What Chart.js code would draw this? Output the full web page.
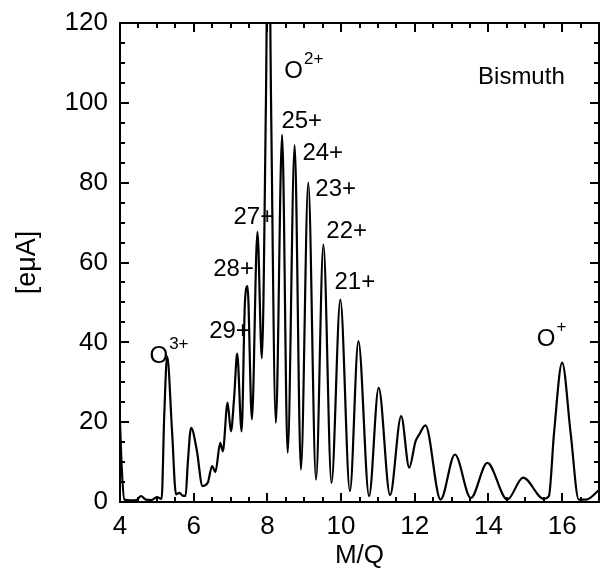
<!DOCTYPE html>
<html>
<head>
<meta charset="utf-8">
<script src="https://cdn.jsdelivr.net/npm/chart.js@4"></script>
<style>
  html, body { margin: 0; padding: 0; background: #fff; }
  #wrap { width: 600px; height: 588px; }
</style>
</head>
<body>
<div id="wrap"><canvas id="spectrum"></canvas></div>
<script>
// --- DATA ---

// M/Q positions of the trace
const massToCharge = [
  4.00, 4.05, 4.12, 4.30, 4.45, 4.57, 4.70, 4.85, 5.00, 5.13,
  5.20, 5.28, 5.41, 5.52, 5.61, 5.70, 5.78, 5.84, 5.93, 6.08,
  6.24, 6.38, 6.50, 6.59, 6.72, 6.79, 6.92, 7.01, 7.10, 7.18,
  7.30, 7.39, 7.46, 7.58, 7.73, 7.85, 7.96, 8.03, 8.10, 8.23,
  8.40, 8.55, 8.74, 8.91, 9.11, 9.32, 9.52, 9.74, 9.98, 10.24,
  10.47, 10.76, 11.02, 11.33, 11.63, 11.85, 12.02, 12.12, 12.29, 12.70,
  13.09, 13.52, 13.97, 14.51, 14.94, 15.50, 15.64, 15.78, 16.00, 16.23,
  16.45, 16.65, 17.00
];
// beam current [eμA]
const beamCurrent = [
  20.0, 8.0, 0.6, 0.4, 0.5, 1.5, 0.6, 0.5, 1.2, 0.8,
  21.5, 36.5, 18.2, 1.9, 2.3, 1.6, 1.5, 9.8, 18.6, 13.2,
  4.0, 4.8, 9.0, 7.5, 14.8, 12.7, 24.9, 17.7, 26.5, 37.2,
  17.7, 49.9, 54.1, 20.7, 67.7, 36.0, 100, 160, 100, 19.8,
  92.0, 12.3, 89.4, 8.1, 80.0, 5.6, 64.5, 4.8, 50.7, 2.7,
  40.3, 1.5, 28.6, 1.7, 21.5, 8.6, 15.2, 16.9, 19.2, 0.6,
  11.9, 1.0, 9.8, 0.6, 6.1, 0.8, 1.5, 17.3, 34.9, 17.3,
  0.6, 0.6, 3.0
];

const xTicks = [4, 6, 8, 10, 12, 14, 16];
const yTicks = [0, 20, 40, 60, 80, 100, 120];

// peak labels: text, superscript, anchor in data units (M/Q, eμA)
const peakText = ["O", "25+", "24+", "23+", "22+", "21+", "27+", "28+", "29+", "O", "O"];
const peakSup = ["2+", "", "", "", "", "", "", "", "", "3+", "+"];
const peakX = [8.46, 8.38, 8.95, 9.30, 9.60, 9.82, 7.08, 6.53, 6.42, 4.80, 15.31];
const peakY = [107.9, 95.4, 87.3, 78.3, 67.8, 55.0, 71.3, 58.3, 42.7, 36.5, 40.7];

const FONT = "Arial, 'Liberation Sans', sans-serif";

// draws the frame, the inward ticks on all four sides and the peak labels
const framePlugin = {
  id: "frame",
  afterDraw(chart) {
    const { ctx, chartArea: a, scales } = chart;
    const xs = scales.x, ys = scales.y;
    ctx.save();
    ctx.strokeStyle = "#000";
    ctx.lineWidth = 2;
    ctx.strokeRect(a.left, a.top, a.right - a.left, a.bottom - a.top);

    ctx.beginPath();
    for (let v = 4; v <= 17.001; v += 0.5) {
      const px = Math.round(xs.getPixelForValue(v));
      const len = v % 2 === 0 ? 9 : 5;
      ctx.moveTo(px, a.bottom); ctx.lineTo(px, a.bottom - len);
      ctx.moveTo(px, a.top); ctx.lineTo(px, a.top + len);
    }
    for (let v = 0; v <= 120; v += 5) {
      const py = Math.round(ys.getPixelForValue(v));
      const len = v % 20 === 0 ? 9 : 5;
      ctx.moveTo(a.left, py); ctx.lineTo(a.left + len, py);
      ctx.moveTo(a.right, py); ctx.lineTo(a.right - len, py);
    }
    ctx.stroke();

    ctx.fillStyle = "#000";
    ctx.textBaseline = "middle";
    peakText.forEach((t, i) => {
      const px = xs.getPixelForValue(peakX[i]);
      const py = ys.getPixelForValue(peakY[i]);
      ctx.font = `24px ${FONT}`;
      ctx.textAlign = "left";
      ctx.fillText(t, px, py);
      if (peakSup[i]) {
        const w = ctx.measureText(t).width;
        ctx.font = `17px ${FONT}`;
        ctx.fillText(peakSup[i], px + w + 1, py - 12);
      }
    });

    ctx.font = `24px ${FONT}`;
    ctx.textAlign = "right";
    ctx.fillText("Bismuth", xs.getPixelForValue(16.07), ys.getPixelForValue(106.4));
    ctx.restore();
  },
};

new Chart(document.getElementById("spectrum"), {
  type: "line",
  data: {
    datasets: [{
      data: massToCharge.map((m, i) => ({ x: m, y: beamCurrent[i] })),
      borderColor: "#000",
      borderWidth: 2.2,
      pointRadius: 0,
      cubicInterpolationMode: "monotone",
      fill: false,
    }],
  },
  options: {
    responsive: true,
    maintainAspectRatio: false,
    animation: false,
    events: [],
    layout: { padding: { top: 23, right: 1, left: 0, bottom: 0 } },
    plugins: { legend: { display: false }, tooltip: { enabled: false } },
    scales: {
      x: {
        type: "linear",
        min: 4,
        max: 17,
        afterBuildTicks: (s) => { s.ticks = xTicks.map((v) => ({ value: v })); },
        afterFit: (s) => { s.height = 86; s.paddingLeft = 0; s.paddingRight = 0; },
        grid: { display: false, drawTicks: false },
        border: { display: false },
        ticks: { color: "#000", font: { family: FONT, size: 26 }, padding: 9, maxRotation: 0 },
        title: { display: true, text: "M/Q", color: "#000", font: { family: FONT, size: 26 }, padding: { top: 4, bottom: 17 } },
      },
      y: {
        type: "linear",
        min: 0,
        max: 120,
        afterBuildTicks: (s) => { s.ticks = yTicks.map((v) => ({ value: v })); },
        afterFit: (s) => { s.width = 120; s.paddingTop = 0; s.paddingBottom = 0; },
        grid: { display: false, drawTicks: false },
        border: { display: false },
        ticks: { color: "#000", font: { family: FONT, size: 26 }, padding: 12 },
        title: { display: true, text: "[eμA]", color: "#000", font: { family: FONT, size: 27 }, padding: { top: 11, bottom: 0 } },
      },
    },
  },
  plugins: [framePlugin],
});
</script>
</body>
</html>
